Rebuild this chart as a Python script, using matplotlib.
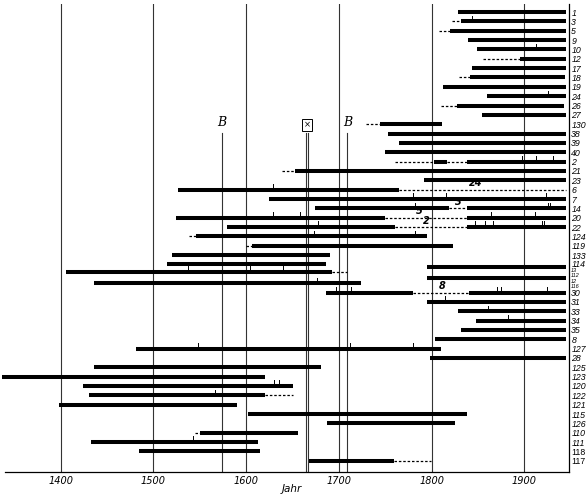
import matplotlib
matplotlib.use("Agg")
import matplotlib.pyplot as plt
import numpy as np

# row labels, top to bottom
labels = ["1", "3", "5", "9", "10", "12", "17", "18", "19", "24", "26", "27", "130",
          "38", "39", "40", "2", "21", "23", "6", "7", "14", "20", "22", "124", "119",
          "133", "114", "13", "112", "12", "116", "30", "31", "33", "34", "35", "8",
          "127", "28", "125", "123", "120", "122", "121", "115", "126", "110", "111",
          "118", "117"]

# solid spans (years) per row
solid = [
    [(1828, 1945)], [(1832, 1945)], [(1820, 1945)], [(1839, 1945)], [(1849, 1945)],
    [(1895, 1945)], [(1843, 1945)], [(1841, 1944)], [(1812, 1945)], [(1860, 1945)],
    [(1827, 1943)], [(1854, 1945)], [(1744, 1811)],
    [(1753, 1945)], [(1765, 1945)], [(1750, 1945)], [(1802, 1816), (1838, 1945)],
    [(1653, 1945)], [(1792, 1945)], [(1527, 1765)], [(1625, 1945)],
    [(1674, 1819), (1838, 1945)], [(1524, 1750), (1838, 1945)],
    [(1579, 1760), (1838, 1945)], [(1546, 1795)], [(1606, 1823)],
    [(1520, 1690)], [(1515, 1686)], [(1795, 1945)], [(1406, 1693)], [(1795, 1945)],
    [(1436, 1724)], [(1686, 1780), (1840, 1945)], [(1795, 1945)], [(1828, 1945)],
    [(1848, 1945)], [(1832, 1945)], [(1804, 1945)],
    [(1481, 1810)], [(1798, 1945)], [(1436, 1681)], [(1337, 1620)], [(1424, 1651)],
    [(1431, 1620)], [(1398, 1590)], [(1602, 1838)], [(1687, 1825)], [(1550, 1656)],
    [(1433, 1613)], [(1484, 1615)], [(1668, 1759)],
]

# dashed spans (years) per row
dashed = [
    [], [(1822, 1832)], [(1808, 1820)], [], [], [(1855, 1895)], [], [(1829, 1841)], [],
    [], [(1810, 1827)], [], [(1729, 1744)],
    [], [], [], [(1760, 1802), (1816, 1838)], [(1639, 1653)], [], [(1765, 1945)], [],
    [(1819, 1838)], [(1750, 1838)], [(1760, 1838)], [(1538, 1546)], [(1600, 1606)],
    [], [], [], [(1693, 1709)], [], [], [(1780, 1840)], [], [], [], [], [],
    [], [], [], [], [], [(1620, 1651)], [], [], [], [(1545, 1550)], [], [],
    [(1759, 1799)],
]

# small tick marks (years) per row
marks = [
    [], [1843], [], [], [1913], [], [], [], [], [1925], [], [], [],
    [], [], [], [1897, 1912, 1931], [], [], [1629], [1780, 1815, 1923],
    [1782, 1925, 1928], [1629, 1658, 1864, 1911], [1677, 1847, 1857, 1866, 1919, 1921],
    [1673, 1782], [],
    [], [], [], [1537, 1604, 1640], [], [1676], [1697, 1713, 1870, 1875, 1924], [1814],
    [1861], [1882], [], [],
    [1548, 1712, 1780], [], [], [], [1630, 1635], [1566], [], [], [], [], [1543], [], [],
]

# numbers written over dashed stretches: (row label, year, text)
notes = [("6", 1847, "24"), ("14", 1829, "3"), ("20", 1787, "5"), ("22", 1794, "2"),
         ("30", 1811, "8")]

centuries = [1400, 1500, 1600, 1700, 1800, 1900]
b_years = [1574, 1709]
x_years = [1664, 1667]

# row slots: evenly spaced, except four squeezed rows after "114"
ypos = np.r_[np.arange(0, 28), [27.3, 27.8, 28.45, 29.0], np.arange(30, 49)].astype(float)
row_y = dict(zip(labels[::-1], ypos[::-1]))
# spread the labels around the squeezed rows a little so they stay legible
squeezed_idx = [28, 29, 30, 31]
label_y = ypos.copy()
label_y[27] = 26.92
label_y[squeezed_idx] = [27.62, 28.17, 28.72, 29.27]
label_y[32] = 30.05

fig = plt.figure(figsize=(5.86, 4.95), dpi=100)
ax = fig.add_axes([5 / 586, 23 / 495, 563.5 / 586, 468 / 495])
ax.set_xlim(1340, 1947.5)
ax.set_ylim(49.2, -0.86)

for yr in centuries:
    ax.axvline(yr, color="#333333", lw=0.8, zorder=1)

top_special = 12.9
for yr in b_years + x_years:
    ax.plot([yr, yr], [49.2, top_special], color="#333333", lw=0.8, zorder=1)
for yr in b_years:
    ax.text(yr, top_special - 0.35, "B", ha="center", va="bottom", fontsize=9,
            style="italic", family="DejaVu Serif")
ax.text(np.mean(x_years), top_special - 0.35, "×", ha="center", va="bottom", fontsize=6,
        bbox=dict(boxstyle="square,pad=0.15", fc="white", ec="black", lw=0.7))

for y, segs, dsegs, tks in zip(ypos, solid, dashed, marks):
    for a, b in segs:
        ax.plot([a, b], [y, y], color="black", lw=2.9, solid_capstyle="butt",
                clip_on=False, zorder=3)
    for a, b in dsegs:
        ax.plot([a, b], [y, y], color="black", lw=0.9, linestyle=(0, (2, 1.5)),
                zorder=3)
    for t in tks:
        ax.plot([t, t], [y, y - 0.6], color="black", lw=0.7, zorder=3)

for lab, yr, txt in notes:
    ax.text(yr, row_y[lab] - 0.15, txt, ha="center", va="bottom", fontsize=7,
            style="italic", fontweight="bold")

for s in ["top", "left"]:
    ax.spines[s].set_visible(False)
ax.spines["right"].set_linewidth(0.9)
ax.spines["bottom"].set_linewidth(0.9)

ax.yaxis.tick_right()
ax.set_yticks(label_y)
ax.set_yticklabels(labels, fontsize=6.3, style="italic", family="Liberation Sans")
ylabs = ax.get_yticklabels()
for i in squeezed_idx:
    ylabs[i].set_fontsize(4.0)
for t in ylabs[-2:]:
    t.set_style("normal")
ax.tick_params(axis="y", length=0, pad=2)

ax.set_xticks(centuries)
ax.set_xticklabels([str(c) for c in centuries], fontsize=7, style="italic")
ax.tick_params(axis="x", length=0, pad=3)
ax.set_xlabel("Jahr", fontsize=7.5, style="italic", va="center")
ax.xaxis.set_label_coords(0.509, -0.037)

fig.savefig("out.png", dpi=100)
